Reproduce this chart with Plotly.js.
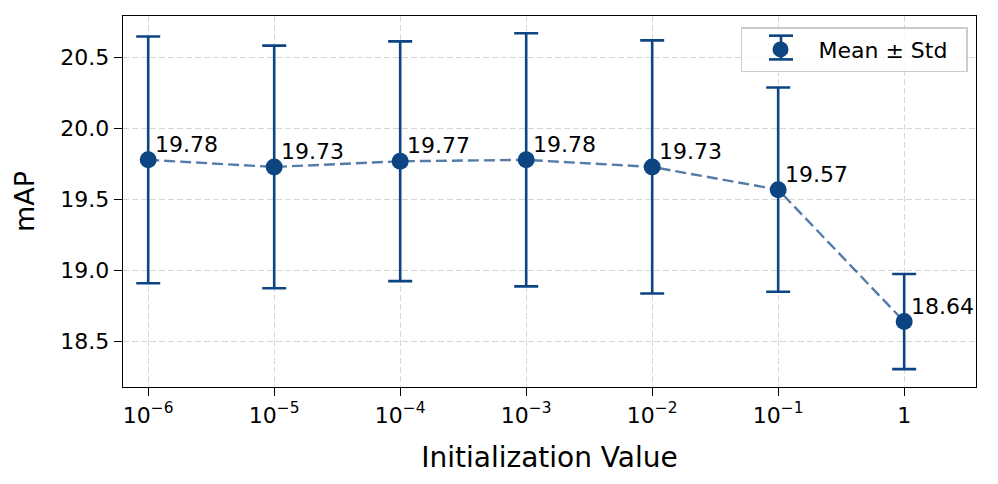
<!DOCTYPE html>
<html>
<head>
<meta charset="utf-8">
<script src="https://cdn.plot.ly/plotly-3.0.1.min.js"></script>
<style>html,body{margin:0;padding:0;background:#fff;}#chart{width:998px;height:484px;}</style>
</head>
<body>
<div id="chart"></div>
<script>
// Data
const tickLabels = ["10<sup>−6</sup>", "10<sup>−5</sup>", "10<sup>−4</sup>", "10<sup>−3</sup>", "10<sup>−2</sup>", "10<sup>−1</sup>", "1"];
const positions = [0, 1, 2, 3, 4, 5, 6];
const meanMAP = [19.78, 19.73, 19.77, 19.78, 19.73, 19.57, 18.64];
const stdMAP = [0.87, 0.855, 0.845, 0.892, 0.892, 0.72, 0.335];

const C = '#0c4582';
const FONT = 'DejaVu Sans, sans-serif';

const traces = [
  {
    x: positions, y: meanMAP, type: 'scatter', mode: 'lines',
    line: {color: 'rgba(12,69,130,0.7)', width: 2.4, dash: '11px,5px'},
    showlegend: false, hoverinfo: 'skip'
  },
  {
    x: positions, y: meanMAP, type: 'scatter', mode: 'markers',
    name: 'Mean ± Std\u00a0\u00a0',
    marker: {color: C, size: 17},
    error_y: {type: 'data', array: stdMAP, visible: true, color: C, thickness: 2.6, width: 12}
  }
];

const annotations = positions.map((p, i) => ({
  x: p, y: meanMAP[i], xref: 'x', yref: 'y',
  text: meanMAP[i].toFixed(2), showarrow: false,
  xanchor: 'left', yanchor: 'bottom', xshift: 5, yshift: 1,
  font: {family: FONT, size: 22, color: '#000'}
}));

// legend glyph (error bar in legend) in paper coords
const gx = 0.7714, gTop = 0.947, gBot = 0.883, gHalf = 0.01407;
const shapes = [
  {type: 'rect', xref: 'paper', yref: 'paper', x0: 0.7245, x1: 0.9906, y0: 0.849, y1: 0.970,
   fillcolor: 'rgba(255,255,255,0.8)', line: {width: 0}, layer: 'above'},
  {type: 'line', xref: 'paper', yref: 'paper', x0: gx, x1: gx, y0: gBot, y1: gTop, line: {color: C, width: 2.6}, layer: 'above'},
  {type: 'line', xref: 'paper', yref: 'paper', x0: gx - gHalf, x1: gx + gHalf, y0: gTop, y1: gTop, line: {color: C, width: 2.6}, layer: 'above'},
  {type: 'line', xref: 'paper', yref: 'paper', x0: gx - gHalf, x1: gx + gHalf, y0: gBot, y1: gBot, line: {color: C, width: 2.6}, layer: 'above'}
];

const layout = {
  width: 998, height: 484,
  margin: {l: 123, r: 22, t: 16, b: 97},
  paper_bgcolor: '#fff', plot_bgcolor: '#fff',
  font: {family: FONT, size: 22, color: '#000'},
  xaxis: {
    range: [-0.2, 6.57], tickvals: positions, ticktext: tickLabels,
    showline: true, mirror: true, linecolor: '#000', linewidth: 1.3,
    ticks: 'outside', ticklen: 8, tickwidth: 1.3, tickcolor: '#000',
    showgrid: true, gridcolor: '#d6d6d6', griddash: '6px,3px', gridwidth: 1,
    zeroline: false,
    tickfont: {family: FONT, size: 22, color: '#000'},
    title: {text: 'Initialization Value', font: {family: FONT, size: 28, color: '#000'}, standoff: 20}
  },
  yaxis: {
    range: [18.179, 20.794], tickvals: [18.5, 19.0, 19.5, 20.0, 20.5],
    ticktext: ['18.5', '19.0', '19.5', '20.0', '20.5'],
    showline: true, mirror: true, linecolor: '#000', linewidth: 1.3,
    ticks: 'outside', ticklen: 8, tickwidth: 1.3, tickcolor: '#000',
    showgrid: true, gridcolor: '#d6d6d6', griddash: '6px,3px', gridwidth: 1,
    zeroline: false,
    tickfont: {family: FONT, size: 22, color: '#000'},
    title: {text: 'mAP', font: {family: FONT, size: 27, color: '#000'}, standoff: 18}
  },
  legend: {
    x: 0.7245, y: 0.97, xanchor: 'left', yanchor: 'top',
    itemwidth: 66,
    bgcolor: 'rgba(0,0,0,0)', bordercolor: '#cccccc', borderwidth: 1.5,
    font: {family: FONT, size: 22, color: '#000'}
  },
  shapes: shapes,
  annotations: annotations,
  showlegend: true
};

Plotly.newPlot('chart', traces, layout, {displayModeBar: false, staticPlot: true});
</script>
</body>
</html>
